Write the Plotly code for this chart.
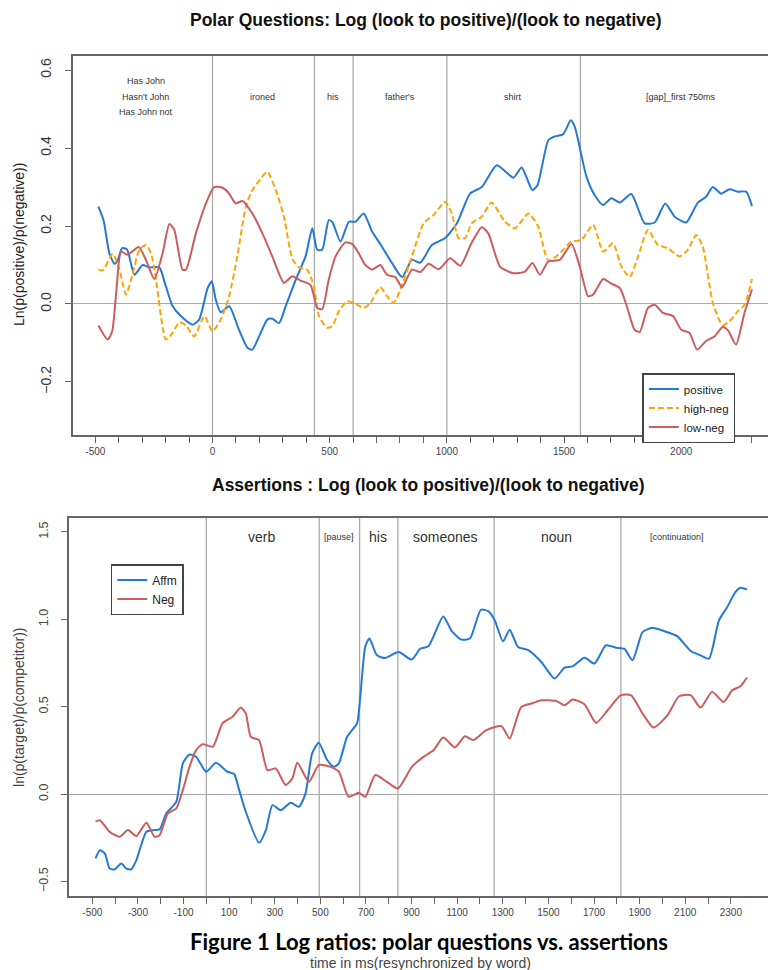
import plotly.graph_objects as go

# The page has an 8px body margin; the figure is sized to fill the rest of the 776x970 window.
OFF = 8
W, H = 776 - OFF, 970 - OFF
FONT = "Liberation Sans, Arial, sans-serif"


def fx(px):
    return (px - OFF) / W


def fy(py):
    return 1 - (py - OFF) / H


# ---------------- Polar questions (top) ----------------
pos_t = [-487, -465, -440, -418, -404, -386, -365, -333, -298, -270, -227, -199, -170, -135, -85, -57, -21, -3, 14, 35,
         71, 113, 149, 170, 199, 234, 255, 284, 312, 355, 397, 426, 447, 468, 496, 511, 546, 582, 610, 645,
         681, 723, 766, 809, 851, 887, 936, 993, 1043, 1099, 1149, 1213, 1284, 1319, 1365, 1387, 1433, 1461, 1496, 1529,
         1546, 1596, 1631, 1667, 1702, 1738, 1787, 1844, 1887, 1932, 1972, 2021, 2071, 2106, 2135, 2170, 2206, 2241, 2277, 2302]
pos_v = [0.25, 0.215, 0.13, 0.103, 0.113, 0.143, 0.14, 0.075, 0.10, 0.094, 0.094, 0.045, -0.006, -0.031, -0.053, -0.04, 0.04, 0.058, 0.011, -0.021,
         -0.006, -0.066, -0.112, -0.117, -0.083, -0.04, -0.038, -0.049, -0.006, 0.062, 0.122, 0.194, 0.139, 0.139, 0.215, 0.211, 0.16, 0.211, 0.211, 0.232,
         0.186, 0.147, 0.105, 0.069, 0.113, 0.106, 0.151, 0.169, 0.207, 0.283, 0.30, 0.356, 0.324, 0.35, 0.292, 0.305, 0.42, 0.43, 0.435, 0.471,
         0.454, 0.326, 0.279, 0.254, 0.271, 0.26, 0.282, 0.207, 0.209, 0.258, 0.224, 0.209, 0.26, 0.275, 0.30, 0.283, 0.294, 0.288, 0.288, 0.251]

hineg_t = [-487, -468, -426, -397, -369, -340, -312, -284, -262, -241, -199, -170, -142, -113, -78, -35, 0, 35, 71, 106,
           142, 170, 206, 234, 270, 305, 340, 369, 404, 433, 454, 489, 511, 539, 574, 603, 645, 674, 716, 745,
           773, 809, 851, 901, 943, 993, 1021, 1050, 1078, 1106, 1149, 1191, 1248, 1291, 1348, 1390, 1433, 1475, 1532, 1574,
           1624, 1667, 1709, 1745, 1780, 1816, 1858, 1901, 1943, 1993, 2028, 2064, 2092, 2135, 2177, 2213, 2241, 2270, 2302]
hineg_v = [0.088, 0.086, 0.129, 0.088, 0.024, 0.079, 0.139, 0.151, 0.13, 0.062, -0.091, -0.074, -0.047, -0.055, -0.083, -0.031, -0.07, -0.04, 0.02, 0.122,
           0.249, 0.292, 0.322, 0.339, 0.292, 0.224, 0.117, 0.094, 0.088, 0.045, -0.031, -0.061, -0.057, -0.019, 0.007, 0.003, -0.01, 0.003, 0.043, 0.02,
           0.003, 0.049, 0.122, 0.207, 0.228, 0.262, 0.232, 0.169, 0.169, 0.207, 0.224, 0.26, 0.211, 0.194, 0.232, 0.198, 0.111, 0.126, 0.16, 0.164,
           0.203, 0.134, 0.156, 0.096, 0.069, 0.122, 0.19, 0.151, 0.143, 0.122, 0.139, 0.177, 0.147, 0.003, -0.055, -0.04, -0.019, -0.002, 0.064]

loneg_t = [-487, -447, -428, -411, -390, -362, -315, -284, -248, -213, -184, -163, -128, -113, -71, -28, 7, 43, 71, 99,
           128, 170, 213, 255, 305, 340, 376, 418, 447, 468, 496, 525, 567, 596, 624, 652, 681, 716, 745, 780,
           809, 851, 887, 922, 965, 1014, 1057, 1106, 1149, 1177, 1227, 1284, 1333, 1365, 1397, 1433, 1482, 1532, 1567, 1603,
           1624, 1667, 1702, 1738, 1766, 1801, 1823, 1858, 1887, 1922, 1965, 2000, 2035, 2068, 2106, 2142, 2177, 2199, 2234, 2270, 2302]
loneg_v = [-0.055, -0.091, -0.07, 0.028, 0.134, 0.126, 0.146, 0.113, 0.064, 0.13, 0.205, 0.19, 0.088, 0.088, 0.181, 0.258, 0.30, 0.298, 0.283, 0.258,
           0.264, 0.232, 0.181, 0.122, 0.054, 0.071, 0.06, 0.049, -0.01, -0.013, 0.062, 0.122, 0.158, 0.154, 0.13, 0.10, 0.088, 0.10, 0.075, 0.069,
           0.043, 0.088, 0.082, 0.103, 0.089, 0.117, 0.098, 0.157, 0.197, 0.181, 0.096, 0.079, 0.083, 0.105, 0.075, 0.109, 0.113, 0.154, 0.096, 0.02,
           0.024, 0.064, 0.052, 0.041, -0.002, -0.066, -0.072, -0.01, -0.002, -0.023, -0.031, -0.066, -0.074, -0.117, -0.095, -0.083, -0.059, -0.067, -0.104, -0.023, 0.037]

top_bounds = [0, 435, 600, 1000, 1570]
top_words = ["Has John", "Hasn't John", "Has John not", "ironed", "his", "father's", "shirt", "[gap]_first 750ms"]
top_word_t = [-285, -285, -285, 215, 515, 798, 1283, 2000]
top_word_y = [0.572, 0.531, 0.492, 0.531, 0.531, 0.531, 0.531, 0.531]

# ---------------- Assertions (bottom) ----------------
affm_t = [-486, -467, -445, -424, -402, -373, -351, -329, -307, -263, -234, -205, -176, -132, -103, -74, -45, -1, 42, 93,
          122, 144, 173, 231, 261, 290, 326, 370, 406, 435, 464, 493, 530, 559, 581, 617, 639, 661, 675, 697,
          715, 748, 785, 843, 901, 938, 974, 1039, 1076, 1119, 1156, 1204, 1236, 1265, 1301, 1330, 1367, 1410, 1469, 1527,
          1571, 1607, 1658, 1702, 1752, 1796, 1833, 1869, 1913, 1956, 2007, 2066, 2124, 2167, 2204, 2248, 2284, 2320, 2342, 2371]
affm_v = [-0.368, -0.321, -0.34, -0.426, -0.431, -0.397, -0.426, -0.431, -0.378, -0.216, -0.206, -0.202, -0.111, -0.044, 0.176, 0.227, 0.214, 0.128, 0.179, 0.128,
          0.115, 0.023, -0.101, -0.279, -0.206, -0.063, -0.092, -0.05, -0.073, 0.004, 0.233, 0.294, 0.195, 0.156, 0.176, 0.328, 0.366, 0.405, 0.557, 0.844,
          0.891, 0.794, 0.779, 0.813, 0.77, 0.832, 0.846, 1.017, 0.933, 0.884, 0.89, 1.055, 1.047, 0.994, 0.874, 0.941, 0.842, 0.825, 0.756, 0.661,
          0.724, 0.731, 0.781, 0.747, 0.851, 0.838, 0.832, 0.766, 0.927, 0.952, 0.933, 0.903, 0.819, 0.794, 0.775, 0.994, 1.07, 1.156, 1.181, 1.171]

neg_t = [-486, -467, -424, -380, -344, -307, -263, -227, -205, -169, -132, -103, -74, -45, -16, 28, 71, 115, 151, 173,
         195, 231, 268, 304, 348, 377, 399, 450, 493, 544, 581, 624, 668, 697, 741, 792, 840, 901, 952, 996,
         1039, 1090, 1134, 1170, 1228, 1294, 1330, 1381, 1430, 1469, 1534, 1571, 1607, 1658, 1709, 1760, 1818, 1862, 1913, 1961,
         2022, 2073, 2124, 2167, 2218, 2269, 2306, 2342, 2371]
neg_v = [-0.158, -0.149, -0.216, -0.244, -0.206, -0.24, -0.164, -0.244, -0.235, -0.111, -0.082, 0.023, 0.156, 0.252, 0.286, 0.271, 0.405, 0.443, 0.496, 0.462,
         0.328, 0.309, 0.137, 0.147, 0.052, 0.09, 0.179, 0.071, 0.166, 0.156, 0.128, -0.015, 0.008, -0.015, 0.109, 0.07, 0.032, 0.156, 0.213, 0.251,
         0.324, 0.267, 0.331, 0.309, 0.366, 0.389, 0.318, 0.499, 0.52, 0.537, 0.533, 0.509, 0.541, 0.514, 0.407, 0.48, 0.566, 0.566, 0.461, 0.381,
         0.451, 0.56, 0.566, 0.495, 0.585, 0.527, 0.594, 0.617, 0.667]

bot_bounds = [0, 495, 672, 840, 1262, 1818]
bot_words = ["verb", "[pause]", "his", "someones", "noun", "[continuation]"]
bot_word_t = [240, 581, 751, 1048, 1537, 2066]
bot_word_size = [14, 9, 14, 14, 14, 9]

top_xticks = list(range(-500, 2301, 100))
top_xtext = [str(v) if v % 500 == 0 else "" for v in top_xticks]
bot_xticks = list(range(-500, 2301, 100))
bot_xtext = [str(v) if (v + 500) % 200 == 0 else "" for v in bot_xticks]

BLUE = "#2479d4"
ORANGE = "#ffa500"
RED = "#cd5c5c"
AX = "#666666"
GRIDC = "#aaaaaa"

fig = go.Figure()
sp = dict(shape="spline", smoothing=0.6, width=2)
fig.add_trace(go.Scatter(x=pos_t, y=pos_v, name="positive", mode="lines", line=dict(color=BLUE, **sp),
                         xaxis="x", yaxis="y", legend="legend"))
fig.add_trace(go.Scatter(x=hineg_t, y=hineg_v, name="high-neg", mode="lines", line=dict(color=ORANGE, dash="6px,3px", **sp),
                         xaxis="x", yaxis="y", legend="legend"))
fig.add_trace(go.Scatter(x=loneg_t, y=loneg_v, name="low-neg", mode="lines", line=dict(color=RED, **sp),
                         xaxis="x", yaxis="y", legend="legend"))
fig.add_trace(go.Scatter(x=affm_t, y=affm_v, name="Affm", mode="lines", line=dict(color=BLUE, **sp),
                         xaxis="x2", yaxis="y2", legend="legend2"))
fig.add_trace(go.Scatter(x=neg_t, y=neg_v, name="Neg", mode="lines", line=dict(color=RED, **sp),
                         xaxis="x2", yaxis="y2", legend="legend2"))

shapes = []
for b in top_bounds:
    shapes.append(dict(type="line", xref="x", yref="y domain", x0=b, x1=b, y0=0, y1=1, line=dict(color=GRIDC, width=1.3), layer="below"))
for b in bot_bounds:
    shapes.append(dict(type="line", xref="x2", yref="y2 domain", x0=b, x1=b, y0=0, y1=1, line=dict(color=GRIDC, width=1.3), layer="below"))

ann = []
for txt, t, yv in zip(top_words, top_word_t, top_word_y):
    ann.append(dict(text=txt, x=t, y=yv, xref="x", yref="y", showarrow=False, xanchor="center", yanchor="middle",
                    font=dict(size=9, color="#333333", family=FONT)))
for txt, t, s in zip(bot_words, bot_word_t, bot_word_size):
    ann.append(dict(text=txt, x=t, y=1.472, xref="x2", yref="y2", showarrow=False, xanchor="center", yanchor="middle",
                    font=dict(size=s, color="#333333", family=FONT)))


def pann(text, px, py, size, color, family=FONT, angle=0, **kw):
    ann.append(dict(text=text, x=fx(px), y=fy(py), xref="paper", yref="paper", xanchor="center", yanchor="middle",
                    textangle=angle, showarrow=False, font=dict(size=size, color=color, family=family), **kw))


pann("<b>Polar Questions: Log (look to positive)/(look to negative)</b>", 427, 20, 17.5, "#111111")
pann("<b>Assertions : Log (look to positive)/(look to negative)</b>", 430, 485, 17.5, "#111111")
pann("Ln(p(positive)/p(negative))", 19, 244, 14, "#222222", angle=-90)
pann("ln(p(target)/p(competitor))", 19, 707, 14, "#444444", angle=-90)
pann("time in ms(resynchronized by word)", 422, 963, 14, "#444444")
pann("<b>Figure 1 Log ratios: polar questions vs. assertions</b>", 430, 941, 22, "#000000",
     family="Lato, Carlito, sans-serif")

axis_common = dict(showline=True, mirror=True, linecolor=AX, linewidth=1.5, showgrid=False, ticks="outside", ticklen=6,
                   tickcolor=AX, tickwidth=1)

fig.update_layout(
    width=W, height=H, margin=dict(l=0, r=0, t=0, b=0), autosize=False,
    paper_bgcolor="white", plot_bgcolor="white",
    font=dict(family=FONT, color="#333333"),
    xaxis=dict(domain=[fx(73), 1.0], range=[-596, 2396], anchor="y", tickvals=top_xticks, ticktext=top_xtext,
               tickfont=dict(size=10, color="#444444"), zeroline=False, **axis_common),
    yaxis=dict(domain=[fy(435), fy(56)], range=[-0.336, 0.636], anchor="x", tickvals=[-0.2, 0.0, 0.2, 0.4, 0.6],
               tickformat=".1f", tickangle=-90, tickfont=dict(size=14, color="#333333"), ticklabelstandoff=8,
               zeroline=True, zerolinecolor=GRIDC, zerolinewidth=1.3, **axis_common),
    xaxis2=dict(domain=[fx(69), fx(775)], range=[-603, 2485], anchor="y2", tickvals=bot_xticks, ticktext=bot_xtext,
                tickfont=dict(size=10, color="#444444"), zeroline=False, **axis_common),
    yaxis2=dict(domain=[fy(896), fy(518)], range=[-0.583, 1.58], anchor="x2", tickvals=[-0.5, 0.0, 0.5, 1.0, 1.5],
                tickformat=".1f", tickangle=-90, tickfont=dict(size=12.5, color="#444444"), ticklabelstandoff=8,
                zeroline=True, zerolinecolor=GRIDC, zerolinewidth=1.3, **axis_common),
    legend=dict(x=fx(644), y=fy(373), xanchor="left", yanchor="top", bordercolor="#444444", borderwidth=1.5,
                bgcolor="white", font=dict(size=11.5, color="#222222", family=FONT), itemwidth=30, tracegroupgap=0),
    legend2=dict(x=fx(111), y=fy(564), xanchor="left", yanchor="top", bordercolor="#444444", borderwidth=1.5,
                 bgcolor="white", font=dict(size=12, color="#222222", family=FONT), itemwidth=30, tracegroupgap=0),
    shapes=shapes,
    annotations=ann,
)

fig.write_html("out.html")
